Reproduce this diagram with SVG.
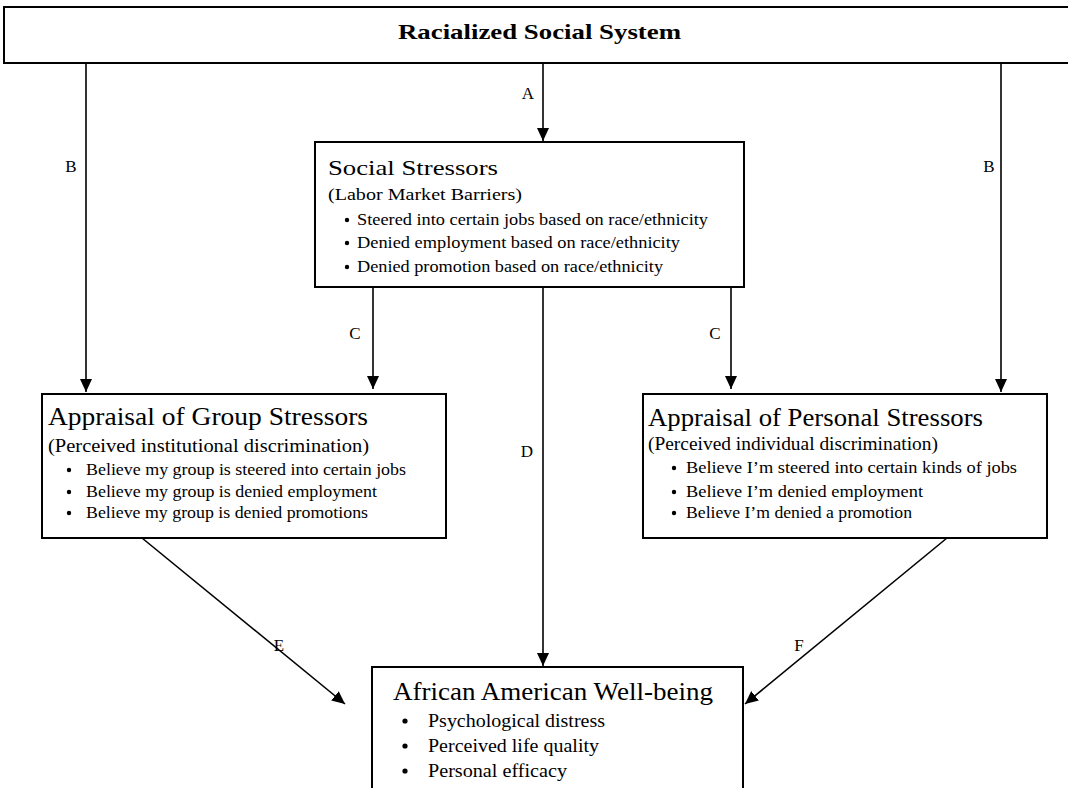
<svg xmlns="http://www.w3.org/2000/svg" width="1068" height="788" viewBox="0 0 1068 788">
<style>
  .box { fill: #ffffff; stroke: #000000; stroke-width: 2; }
  .conn { fill: none; stroke: #000000; stroke-width: 1.6; }
  text { font-family: "Liberation Serif", "Times New Roman", serif; fill: #000000; }
  .main { font-size: 22px; font-weight: bold; }
  .ttl { font-size: 25px; }
  .ttl2 { font-size: 22px; }
  .sub { font-size: 18px; }
  .sub2 { font-size: 16px; }
  .bul { font-size: 16px; }
  .bul2 { font-size: 18px; }
  .lbl { font-size: 17px; text-anchor: middle; }
  .dot { fill: #000000; }
</style>
<defs>
  <marker id="arr" markerUnits="userSpaceOnUse" markerWidth="14" markerHeight="12" refX="13" refY="6" orient="auto">
    <path d="M0,0 L13,6 L0,12 Z" fill="#000000"/>
  </marker>
</defs>
<rect width="1068" height="788" fill="#ffffff"/>

<g id="connectors">
  <line class="conn" x1="543" y1="63" x2="543" y2="141" marker-end="url(#arr)"/>
  <line class="conn" x1="86" y1="63" x2="86" y2="392" marker-end="url(#arr)"/>
  <line class="conn" x1="1001" y1="63" x2="1001" y2="392" marker-end="url(#arr)"/>
  <line class="conn" x1="373" y1="287" x2="373" y2="389" marker-end="url(#arr)"/>
  <line class="conn" x1="731" y1="287" x2="731" y2="389" marker-end="url(#arr)"/>
  <line class="conn" x1="543" y1="287" x2="543" y2="666" marker-end="url(#arr)"/>
  <line class="conn" x1="142" y1="538" x2="345" y2="704" marker-end="url(#arr)"/>
  <line class="conn" x1="947" y1="538" x2="745" y2="704" marker-end="url(#arr)"/>
  <text class="lbl" x="528" y="99">A</text>
  <text class="lbl" x="71" y="172">B</text>
  <text class="lbl" x="989" y="172">B</text>
  <text class="lbl" x="355" y="339">C</text>
  <text class="lbl" x="715" y="339">C</text>
  <text class="lbl" x="527" y="457">D</text>
  <text class="lbl" x="279" y="651">E</text>
  <text class="lbl" x="799" y="651">F</text>
</g>

<g id="racialized-social-system">
  <rect class="box" x="4" y="7" width="1070" height="56"/>
  <text class="main" x="398" y="39" textLength="283" lengthAdjust="spacingAndGlyphs">Racialized Social System</text>
</g>

<g id="social-stressors">
  <rect class="box" x="315" y="142" width="429" height="145"/>
  <text class="ttl2" x="328" y="175" textLength="170" lengthAdjust="spacingAndGlyphs">Social Stressors</text>
  <text class="sub2" x="328" y="200" textLength="194" lengthAdjust="spacingAndGlyphs">(Labor Market Barriers)</text>
  <circle class="dot" cx="347" cy="220" r="2.2"/>
  <text class="bul" x="357" y="225" textLength="351" lengthAdjust="spacingAndGlyphs">Steered into certain jobs based on race/ethnicity</text>
  <circle class="dot" cx="347" cy="243" r="2.2"/>
  <text class="bul" x="357" y="248" textLength="323" lengthAdjust="spacingAndGlyphs">Denied employment based on race/ethnicity</text>
  <circle class="dot" cx="347" cy="267" r="2.2"/>
  <text class="bul" x="357" y="272" textLength="306" lengthAdjust="spacingAndGlyphs">Denied promotion based on race/ethnicity</text>
</g>

<g id="group-stressors">
  <rect class="box" x="42" y="394" width="404" height="144"/>
  <text class="ttl" x="48" y="425" textLength="320" lengthAdjust="spacingAndGlyphs">Appraisal of Group Stressors</text>
  <text class="sub" x="48" y="452" textLength="321" lengthAdjust="spacingAndGlyphs">(Perceived institutional discrimination)</text>
  <circle class="dot" cx="69" cy="470" r="2.2"/>
  <text class="bul" x="86" y="475" textLength="320" lengthAdjust="spacingAndGlyphs">Believe my group is steered into certain jobs</text>
  <circle class="dot" cx="69" cy="492" r="2.2"/>
  <text class="bul" x="86" y="497" textLength="291" lengthAdjust="spacingAndGlyphs">Believe my group is denied employment</text>
  <circle class="dot" cx="69" cy="513" r="2.2"/>
  <text class="bul" x="86" y="518" textLength="282" lengthAdjust="spacingAndGlyphs">Believe my group is denied promotions</text>
</g>

<g id="personal-stressors">
  <rect class="box" x="643" y="394" width="404" height="144"/>
  <text class="ttl" x="648" y="426" textLength="335" lengthAdjust="spacingAndGlyphs">Appraisal of Personal Stressors</text>
  <text class="sub" x="648" y="450" textLength="290" lengthAdjust="spacingAndGlyphs">(Perceived individual discrimination)</text>
  <circle class="dot" cx="674" cy="468" r="2.2"/>
  <text class="bul" x="686" y="473" textLength="331" lengthAdjust="spacingAndGlyphs">Believe I’m steered into certain kinds of jobs</text>
  <circle class="dot" cx="674" cy="492" r="2.2"/>
  <text class="bul" x="686" y="497" textLength="237" lengthAdjust="spacingAndGlyphs">Believe I’m denied employment</text>
  <circle class="dot" cx="674" cy="513" r="2.2"/>
  <text class="bul" x="686" y="518" textLength="226" lengthAdjust="spacingAndGlyphs">Believe I’m denied a promotion</text>
</g>

<g id="well-being">
  <rect class="box" x="372" y="667" width="371" height="140"/>
  <text class="ttl" x="393" y="700" textLength="320" lengthAdjust="spacingAndGlyphs">African American Well-being</text>
  <circle class="dot" cx="405" cy="721" r="2.6"/>
  <text class="bul2" x="428" y="727" textLength="177" lengthAdjust="spacingAndGlyphs">Psychological distress</text>
  <circle class="dot" cx="405" cy="746" r="2.6"/>
  <text class="bul2" x="428" y="752" textLength="171" lengthAdjust="spacingAndGlyphs">Perceived life quality</text>
  <circle class="dot" cx="405" cy="771" r="2.6"/>
  <text class="bul2" x="428" y="777" textLength="139" lengthAdjust="spacingAndGlyphs">Personal efficacy</text>
</g>
</svg>
